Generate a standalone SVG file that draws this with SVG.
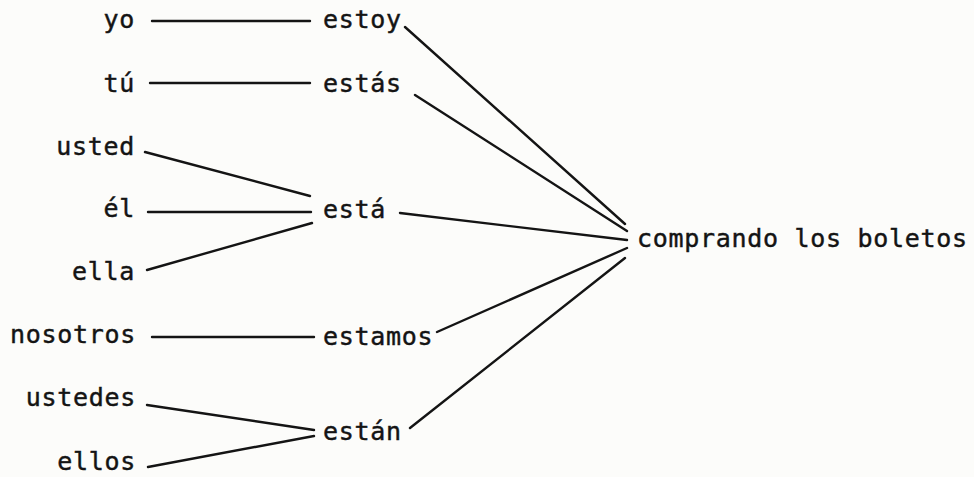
<svg xmlns="http://www.w3.org/2000/svg" width="974" height="477" viewBox="0 0 974 477">
<style>
.t{font-family:"DejaVu Sans Mono","Liberation Mono",monospace;font-size:25px;letter-spacing:0.7px;fill:#141414;stroke:#141414;stroke-width:0.45px}
.l{text-anchor:end}
.c line{stroke:#141414;stroke-width:2.4;stroke-linecap:round}
</style>
<rect width="974" height="477" fill="#fcfcfa"/>
<g id="connectors" class="c">
<line x1="152" y1="21" x2="310" y2="21"/>
<line x1="150" y1="83" x2="310" y2="83"/>
<line x1="145" y1="152" x2="310" y2="196"/>
<line x1="148" y1="212" x2="311" y2="212"/>
<line x1="147" y1="270" x2="312" y2="223"/>
<line x1="152" y1="337" x2="314" y2="337"/>
<line x1="147" y1="405" x2="314" y2="430"/>
<line x1="148" y1="467" x2="314" y2="436"/>
<line x1="405" y1="27" x2="625" y2="224"/>
<line x1="415" y1="95" x2="627" y2="231"/>
<line x1="400" y1="213" x2="627" y2="240"/>
<line x1="437" y1="332" x2="627" y2="248"/>
<line x1="410" y1="428" x2="625" y2="258"/>
</g>
<g id="yo"><text class="t l" x="135" y="28">yo</text></g>
<g id="tu"><text class="t l" x="135" y="92">tú</text></g>
<g id="usted"><text class="t l" x="135" y="155">usted</text></g>
<g id="el"><text class="t l" x="135" y="217">él</text></g>
<g id="ella"><text class="t l" x="135" y="280">ella</text></g>
<g id="nosotros"><text class="t l" x="136" y="343">nosotros</text></g>
<g id="ustedes"><text class="t l" x="136" y="406">ustedes</text></g>
<g id="ellos"><text class="t l" x="136" y="470">ellos</text></g>
<g id="estoy"><text class="t" x="323" y="28">estoy</text></g>
<g id="estas"><text class="t" x="323" y="92">estás</text></g>
<g id="esta"><text class="t" x="323" y="218">está</text></g>
<g id="estamos"><text class="t" x="323" y="345">estamos</text></g>
<g id="estan"><text class="t" x="323" y="440">están</text></g>
<g id="comprando"><text class="t" x="637" y="247">comprando los boletos</text></g>
</svg>
